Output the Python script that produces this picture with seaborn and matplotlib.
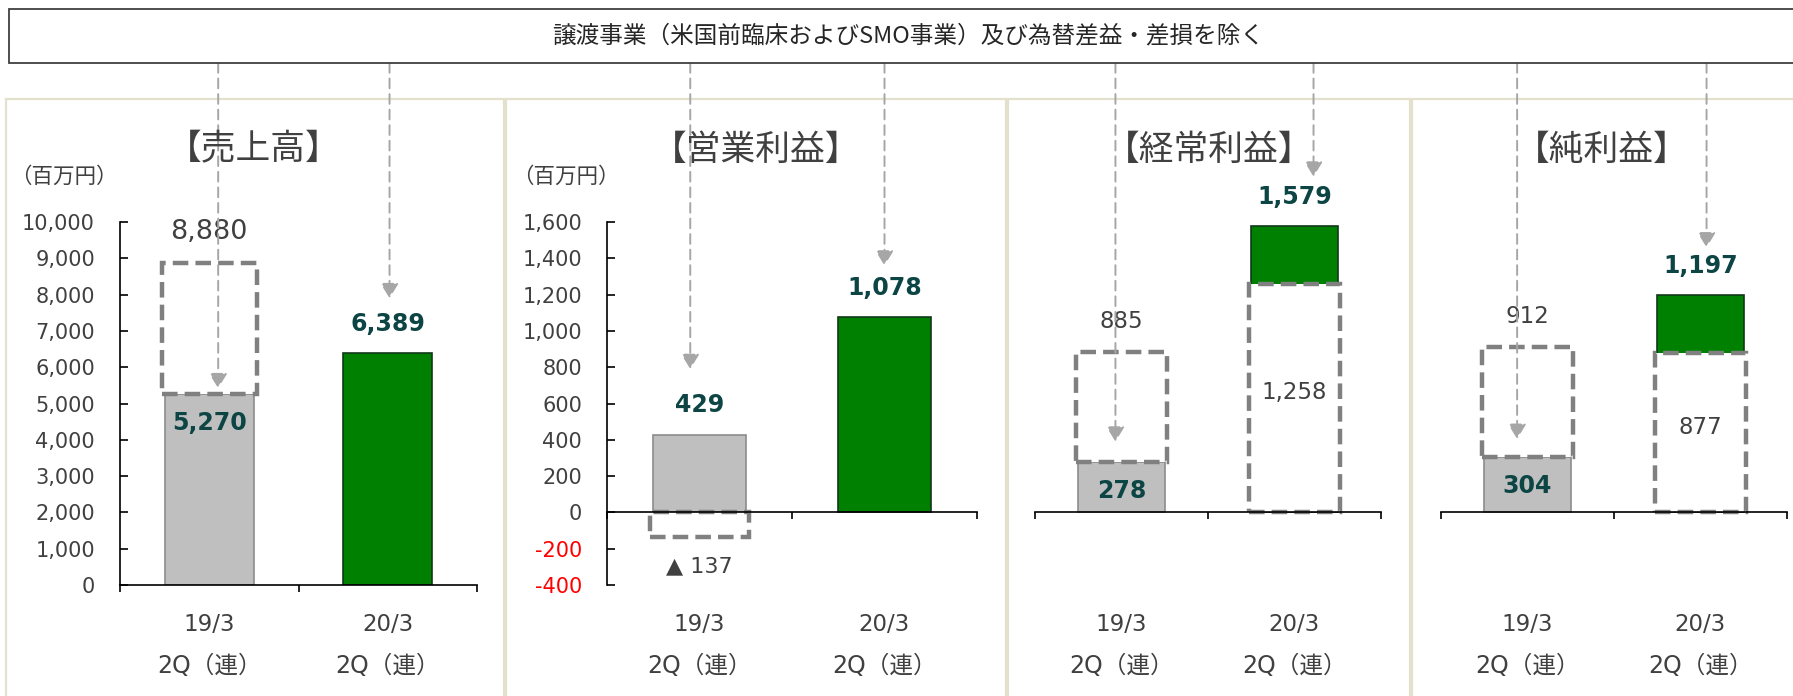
import seaborn as sns
import matplotlib.pyplot as plt
import matplotlib.transforms as mtransforms
from matplotlib.patches import Rectangle

# ---- data ----
metrics = ['売上高', '営業利益', '経常利益', '純利益']
periods = ['19/3', '20/3']
period_note = '2Q（連）'
reported_193 = [5270, 429, 278, 304]
reported_203 = [6389, 1078, 1579, 1197]
adjusted_193 = [8880, -137, 885, 912]      # 譲渡事業・為替差損益を除く
adjusted_203 = [None, None, 1258, 877]
sales_ticks = list(range(0, 10001, 1000))
profit_ticks = list(range(-400, 1601, 200))
note_text = '譲渡事業（米国前臨床およびSMO事業）及び為替差益・差損を除く'
unit_label = '（百万円）'
# where the dashed note arrows end (data units) and their sideways shift
arrow_tips = [[5420, 7900], [790, 1360], [390, 1850], [405, 1460]]
arrow_shift = [[0.05, 0.01], [-0.05, 0.0], [-0.035, 0.11], [-0.06, 0.035]]

W, H = 1793, 696
GRAY, GREEN, TEAL, TXT = '#bfbfbf', '#008000', '#0d4545', '#404040'
CJK = ['Noto Sans CJK JP', 'DejaVu Sans']

sns.set_style('white')
plt.rcParams['font.family'] = ['DejaVu Sans', 'Noto Sans CJK JP']

fig = plt.figure(figsize=(W / 100, H / 100), dpi=100)


def fx(px):
    return px / W


def fy(py):
    return 1 - py / H


# panel frames (beige boxes behind every chart)
panels = [(6, 504), (506, 1006), (1008, 1410), (1412, 1810)]
for x0, x1 in panels:
    fig.add_artist(Rectangle((fx(x0), fy(730)), fx(x1 - x0), (730 - 99) / H,
                             transform=fig.transFigure, fill=False,
                             ec='#e3e0cc', lw=1.6, zorder=-1))

# note box at the top
fig.add_artist(Rectangle((fx(9), fy(63)), 1.0, (63 - 9) / H, transform=fig.transFigure,
                         fc='white', ec='#404040', lw=1.3, zorder=1))
fig.text(fx(908), fy(36), note_text, ha='center', va='center', size=17,
         color='#262626', family=CJK)

axes_px = [(120, 477), (607, 977), (1035, 1381), (1441, 1787)]
title_x = [254, 756, 1209, 1602]
top_px, bot_px = 222, 585

for k, (x0, x1) in enumerate(axes_px):
    ax = fig.add_axes([fx(x0), fy(bot_px), fx(x1 - x0), (bot_px - top_px) / H])
    ax.patch.set_visible(False)
    vals = [reported_193[k], reported_203[k]]
    adjs = [adjusted_193[k], adjusted_203[k]]

    sns.barplot(x=periods, y=vals, hue=periods, palette=[GRAY, GREEN], width=0.5,
                saturation=1, legend=False, ax=ax)
    for bar, ec in zip(ax.patches, ['#8c8c8c', '#12381a']):
        bar.set_edgecolor(ec)
        bar.set_linewidth(1.2)

    adj_size = 19.5 if k == 0 else 16.5
    for i, (rep, adj) in enumerate(zip(vals, adjs)):
        inside = adj is not None and adj > rep
        if adj is not None:
            if adj > rep:
                lo, hi = rep, adj
            else:
                lo, hi = min(0, adj), max(0, adj)
            ax.bar(i, hi - lo, bottom=lo, width=0.53, fc='white', ec='#808080',
                   lw=3.2, ls=(0, (3.5, 1.6)), zorder=2)
            if adj > rep:
                ax.annotate(f'{adj:,}', (i, hi), xytext=(0, 22), textcoords='offset points',
                            ha='center', va='center', size=adj_size, color=TXT,
                            annotation_clip=False)
            elif adj < 0:
                ax.annotate(f'▲ {abs(adj):,}', (i, lo), xytext=(0, -21),
                            textcoords='offset points', ha='center', va='center',
                            size=16, color=TXT, annotation_clip=False)
            else:
                ax.annotate(f'{adj:,}', (i, (lo + hi) / 2), xytext=(0, 4),
                            textcoords='offset points', ha='center', va='center',
                            size=adj_size, color=TXT, zorder=4)
        ax.annotate(f'{rep:,}', (i, rep), xytext=(0, -21 if inside else 21),
                    textcoords='offset points', ha='center', va='center', size=17,
                    fontweight='bold', color=TEAL, zorder=4, annotation_clip=False)

    # axes styling
    ax.set_xlim(-0.5, 1.5)
    ax.set_xticks([-0.5, 0.5, 1.5])
    ax.set_xticklabels([])
    ax.set_xlabel('')
    ax.set_ylabel('')
    sns.despine(ax=ax)
    for s in ['left', 'bottom']:
        ax.spines[s].set_color('black')
        ax.spines[s].set_linewidth(1.2)
        ax.spines[s].set_zorder(3)
    ax.tick_params(axis='x', bottom=True, direction='out', length=5, width=1.2, color='black')

    ticks = sales_ticks if k == 0 else profit_ticks
    ax.set_ylim(ticks[0], ticks[-1])
    if k > 0:
        ax.spines['bottom'].set_position(('data', 0))
    if k < 2:
        ax.set_yticks(ticks)
        ax.set_yticklabels([f'{t:,}' for t in ticks])
        ax.tick_params(axis='y', left=True, direction='in', length=6, width=1.2,
                       color='black', pad=18, labelsize=15, labelcolor=TXT)
        for lab, t in zip(ax.get_yticklabels(), ticks):
            if t < 0:
                lab.set_color('red')
        fig.text(fx(title_x[k] - 190), fy(177), unit_label, ha='center', va='center',
                 size=15.5, color=TXT, family=CJK)
    else:
        ax.spines['left'].set_visible(False)
        ax.set_yticks([])

    # category labels under each chart
    trans = mtransforms.blended_transform_factory(ax.transData, ax.transAxes)
    for i, p in enumerate(periods):
        ax.text(i, -0.11, p, transform=trans, ha='center', va='center', size=16.5, color=TXT)
        ax.text(i, -0.223, period_note, transform=trans, ha='center', va='center',
                size=17, color=TXT)

    # dashed arrows from the note box
    ftrans = mtransforms.blended_transform_factory(ax.transData, fig.transFigure)
    for i in range(2):
        x = i + arrow_shift[k][i]
        ax.annotate('', xy=(x, arrow_tips[k][i]), xytext=(x, fy(63)), textcoords=ftrans,
                    arrowprops=dict(arrowstyle='-|>,head_length=0.9,head_width=0.55',
                                    color='#a6a6a6', lw=1.4, ls=(0, (5, 3)),
                                    shrinkA=0, shrinkB=0),
                    annotation_clip=False, zorder=6)

    fig.text(fx(title_x[k]), fy(150), f'【{metrics[k]}】', ha='center', va='center',
             size=25, color=TXT, family=CJK)

fig.savefig('out.png', dpi=100)
